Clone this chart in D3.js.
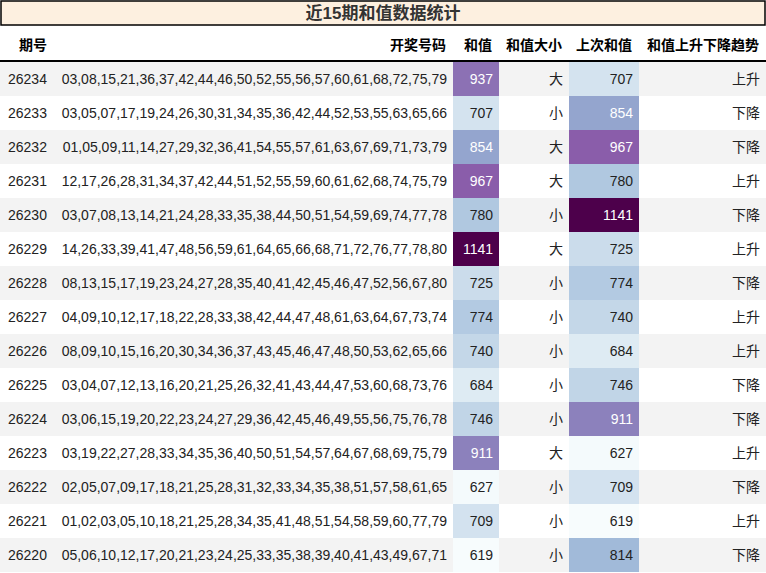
<!DOCTYPE html><html><head><meta charset="utf-8"><script src="https://d3js.org/d3.v7.min.js"></script>
<style>body{margin:0;background:#fff;font-family:"Liberation Sans","Noto Sans CJK SC",sans-serif}</style></head><body><svg id="c" width="766" height="573"></svg>
<script>
const periods=["26234","26233","26232","26231","26230","26229","26228","26227","26226","26225","26224","26223","26222","26221","26220"];
const numbers=["03,08,15,21,36,37,42,44,46,50,52,55,56,57,60,61,68,72,75,79","03,05,07,17,19,24,26,30,31,34,35,36,42,44,52,53,55,63,65,66","01,05,09,11,14,27,29,32,36,41,54,55,57,61,63,67,69,71,73,79","12,17,26,28,31,34,37,42,44,51,52,55,59,60,61,62,68,74,75,79","03,07,08,13,14,21,24,28,33,35,38,44,50,51,54,59,69,74,77,78","14,26,33,39,41,47,48,56,59,61,64,65,66,68,71,72,76,77,78,80","08,13,15,17,19,23,24,27,28,35,40,41,42,45,46,47,52,56,67,80","04,09,10,12,17,18,22,28,33,38,42,44,47,48,61,63,64,67,73,74","08,09,10,15,16,20,30,34,36,37,43,45,46,47,48,50,53,62,65,66","03,04,07,12,13,16,20,21,25,26,32,41,43,44,47,53,60,68,73,76","03,06,15,19,20,22,23,24,27,29,36,42,45,46,49,55,56,75,76,78","03,19,22,27,28,33,34,35,36,40,50,51,54,57,64,67,68,69,75,79","02,05,07,09,17,18,21,25,28,31,32,33,34,35,38,51,57,58,61,65","01,02,03,05,10,18,21,25,28,34,35,41,48,51,54,58,59,60,77,79","05,06,10,12,17,20,21,23,24,25,33,35,38,39,40,41,43,49,67,71"];
const sums=[937,707,854,967,780,1141,725,774,740,684,746,911,627,709,619];
const sizes=["大","小","大","大","小","大","小","小","小","小","小","大","小","小","小"];
const prevSums=[707,854,967,780,1141,725,774,740,684,746,911,627,709,619,814];
const trends=["上升","下降","下降","上升","下降","上升","下降","上升","上升","下降","下降","上升","下降","上升","下降"];
const headers=["期号","开奖号码","和值","和值大小","上次和值","和值上升下降趋势"];
const title="近15期和值数据统计";

const svg=d3.select("#c");
const W=766;
const cols=[[0,57,"start"],[57,453,"end"],[453,499,"end"],[499,569,"end"],[569,639,"end"],[639,766,"end"]];
const y=d3.scaleBand().domain(d3.range(15)).range([62,572]);
const all=sums.concat(prevSums);
const color=d3.scaleSequential(d3.interpolateBuPu).domain([d3.min(all),d3.max(all)]);
svg.append("rect").attr("x",1).attr("y",1).attr("width",W-2).attr("height",24).attr("fill","#fdf0e0").attr("stroke","#000").attr("stroke-width",1.5);
svg.append("text").attr("x",W/2).attr("y",19).attr("text-anchor","middle").attr("font-size",17).attr("font-weight","bold").attr("fill","#333").text(title);
headers.forEach((h,i)=>{const c=cols[i];svg.append("text").attr("x",i===0?33:c[1]-7).attr("y",50).attr("text-anchor",i===0?"middle":"end").attr("font-size",14).attr("font-weight","bold").attr("fill","#000").text(h);});
svg.append("line").attr("x1",0).attr("x2",W).attr("y1",61).attr("y2",61).attr("stroke","#000").attr("stroke-width",2);
const rows=svg.selectAll("g.r").data(d3.range(15)).join("g").attr("transform",i=>`translate(0,${y(i)})`);
rows.append("rect").attr("width",W).attr("height",y.bandwidth()).attr("fill",i=>i%2===0?"#f3f3f3":"#fff");
rows.append("rect").attr("x",cols[2][0]).attr("width",cols[2][1]-cols[2][0]).attr("height",y.bandwidth()).attr("fill",i=>color(sums[i]));
rows.append("rect").attr("x",cols[4][0]).attr("width",cols[4][1]-cols[4][0]).attr("height",y.bandwidth()).attr("fill",i=>color(prevSums[i]));
const fields=[periods,numbers,sums,sizes,prevSums,trends];
fields.forEach((f,k)=>{const c=cols[k];
 rows.append("text").attr("x",c[2]==="start"?c[0]+8:c[1]-6).attr("y",y.bandwidth()/2+5).attr("text-anchor",c[2]).attr("font-size",14)
 .attr("fill",i=>{ if(k===2||k===4){const v=f[i];return v>850?"#fff":"#222";} return "#222";}).text(i=>f[i]);});
</script></body></html>
